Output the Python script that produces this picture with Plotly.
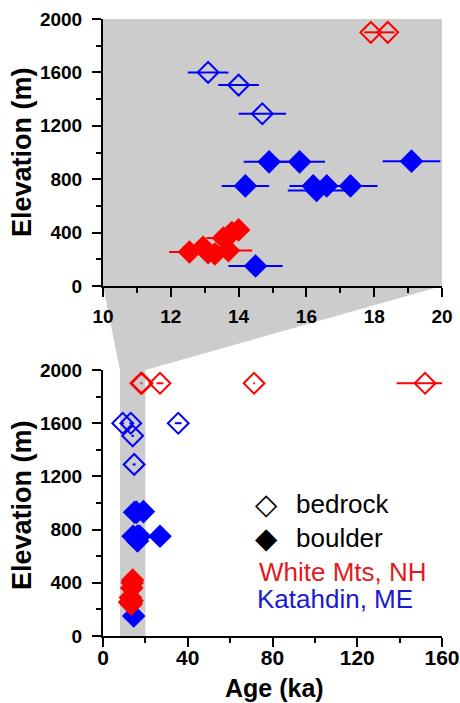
import plotly.graph_objects as go
from plotly.subplots import make_subplots

# ---------------- data ----------------
# White Mountains, NH
wm_bedrock_age = [17.9, 18.4, 26.9, 71.3, 152.0]
wm_bedrock_err = [0.2, 0.2, 1.6, 0.4, 13.4]
wm_bedrock_elev = [1900, 1900, 1900, 1900, 1900]

wm_boulder_age = [12.55, 12.95, 13.3, 13.7, 13.1, 13.55, 13.8, 14.0]
wm_boulder_err = [0.6, 0.6, 0.6, 0.7, 0.6, 0.5, 0.4, 0.3]
wm_boulder_elev = [255, 290, 240, 265, 250, 360, 400, 420]

# Katahdin, ME
kt_bedrock_age = [9.3, 13.1, 14.0, 14.7, 35.5]
kt_bedrock_err = [0.6, 0.6, 0.6, 0.7, 1.6]
kt_bedrock_elev = [1600, 1600, 1505, 1290, 1600]

kt_boulder_age = [14.9, 15.8, 19.1, 14.2, 16.2, 16.3, 16.6, 17.3, 14.5, 26.9]
kt_boulder_err = [0.75, 0.75, 0.85, 0.7, 0.7, 0.85, 0.6, 0.8, 0.8, 1.5]
kt_boulder_elev = [930, 930, 935, 750, 750, 715, 750, 750, 150, 750]

# axes
top_x_range = [10, 20]
bot_x_range = [0, 160]
y_range = [0, 2000]
zoom_band = [8, 20]  # shaded age band in lower panel

legend_items = ["bedrock", "boulder"]
site_labels = ["White Mts, NH", "Katahdin, ME"]

RED = "#ff0000"
BLUE = "#0000ff"
GRAY = "#cccccc"
FONT = "Arial, Liberation Sans, sans-serif"

W, H = 460, 703
xd = [103 / W, 442 / W]
top_yd = [1 - 286 / H, 1 - 19 / H]
bot_yd = [1 - 636 / H, 1 - 370 / H]

fig = make_subplots(rows=2, cols=1)

series = [
    (wm_bedrock_age, wm_bedrock_err, wm_bedrock_elev, RED, "diamond-open"),
    (kt_bedrock_age, kt_bedrock_err, kt_bedrock_elev, BLUE, "diamond-open"),
    (kt_boulder_age, kt_boulder_err, kt_boulder_elev, BLUE, "diamond"),
    (wm_boulder_age, wm_boulder_err, wm_boulder_elev, RED, "diamond"),
]

for row in (1, 2):
    for age, err, elev, col, sym in series:
        fig.add_trace(
            go.Scatter(
                x=age, y=elev, mode="markers",
                marker=dict(symbol=sym, size=16, color=col,
                            line=dict(color=col, width=2)),
                error_x=dict(type="data", array=err, color=col,
                             thickness=2, width=0, visible=True),
                showlegend=False, hoverinfo="skip",
            ),
            row=row, col=1,
        )

axis_common = dict(
    showline=True, linecolor="black", linewidth=2,
    ticks="outside", ticklen=9, tickwidth=2, tickcolor="black",
    showgrid=False, zeroline=False, mirror=False,
    tickfont=dict(family=FONT, size=19, color="black", weight="bold"),
    automargin=False,
)
minor = dict(ticks="outside", ticklen=5, tickwidth=2, tickcolor="black", showgrid=False)

fig.update_layout(
    xaxis=dict(axis_common, domain=xd, range=top_x_range, dtick=2,
               minor=dict(minor, dtick=1), anchor="y", ticklabelstandoff=3),
    yaxis=dict(axis_common, domain=top_yd, range=y_range, dtick=400,
               minor=dict(minor, dtick=200), anchor="x", ticklabelstandoff=6),
    xaxis2=dict(axis_common, domain=xd, range=bot_x_range, dtick=40,
                minor=dict(minor, dtick=20), anchor="y2", ticklabelstandoff=-7,
                tickfont=dict(family=FONT, size=21, color="black", weight="bold")),
    yaxis2=dict(axis_common, domain=bot_yd, range=y_range, dtick=400,
                minor=dict(minor, dtick=200), anchor="x2", ticklabelstandoff=6),
)

# shading: top panel background, zoom band and connecting wedge
shapes = [
    dict(type="rect", xref="x domain", yref="y domain", x0=0, x1=1, y0=0, y1=1,
         fillcolor=GRAY, line=dict(width=0), layer="below"),
    dict(type="rect", xref="x2", yref="y2 domain", x0=zoom_band[0], x1=zoom_band[1],
         y0=0, y1=1, fillcolor=GRAY, line=dict(width=0), layer="below"),
]
bx0 = xd[0] + (zoom_band[0] - bot_x_range[0]) / (bot_x_range[1] - bot_x_range[0]) * (xd[1] - xd[0])
bx1 = xd[0] + (zoom_band[1] - bot_x_range[0]) / (bot_x_range[1] - bot_x_range[0]) * (xd[1] - xd[0])
path = f"M {xd[0]},{top_yd[0]} L {xd[1]},{top_yd[0]} L {bx1},{bot_yd[1]} L {bx0},{bot_yd[1]} Z"
shapes.append(dict(type="path", xref="paper", yref="paper", path=path,
                   fillcolor=GRAY, line=dict(width=0), layer="below"))

ann = []
# axis titles
for yc in (152, 505):
    ann.append(dict(text="<b>Elevation (m)</b>", x=22 / W, y=1 - yc / H, xref="paper", yref="paper",
                    textangle=-90, showarrow=False, xanchor="center", yanchor="middle",
                    font=dict(family=FONT, size=27, color="black")))
ann.append(dict(text="<b>Age (ka)</b>", x=274 / W, y=1 - 688 / H, xref="paper", yref="paper",
                showarrow=False, xanchor="center", yanchor="middle",
                font=dict(family=FONT, size=25, color="black")))

# legend block
sym_font = dict(family="DejaVu Sans", size=29, color="black")
txt_font = dict(family=FONT, size=26, color="black")
ann.append(dict(text="\u25c7", x=266 / W, y=1 - 504 / H, xref="paper", yref="paper",
                showarrow=False, xanchor="center", yanchor="middle", font=sym_font))
ann.append(dict(text="\u25c6", x=266 / W, y=1 - 538 / H, xref="paper", yref="paper",
                showarrow=False, xanchor="center", yanchor="middle", font=sym_font))
ann.append(dict(text=legend_items[0], x=294 / W, y=1 - 504 / H, xref="paper", yref="paper",
                showarrow=False, xanchor="left", yanchor="middle", font=txt_font))
ann.append(dict(text=legend_items[1], x=294 / W, y=1 - 538 / H, xref="paper", yref="paper",
                showarrow=False, xanchor="left", yanchor="middle", font=txt_font))
ann.append(dict(text=site_labels[0], x=257 / W, y=1 - 572 / H, xref="paper", yref="paper",
                showarrow=False, xanchor="left", yanchor="middle",
                font=dict(family=FONT, size=26, color="#e41a1c")))
ann.append(dict(text=site_labels[1], x=255 / W, y=1 - 599 / H, xref="paper", yref="paper",
                showarrow=False, xanchor="left", yanchor="middle",
                font=dict(family=FONT, size=26, color="#1a1ad0")))

fig.update_layout(
    width=W, height=H,
    margin=dict(l=0, r=0, t=0, b=0, pad=0, autoexpand=False),
    paper_bgcolor="white", plot_bgcolor="rgba(0,0,0,0)",
    shapes=shapes, annotations=ann, showlegend=False,
)

fig.write_html(
    "out.html",
    config={"displayModeBar": False},
    post_script="document.body.style.margin='0';document.body.style.padding='0';"
                "document.body.style.overflow='hidden';",
)
